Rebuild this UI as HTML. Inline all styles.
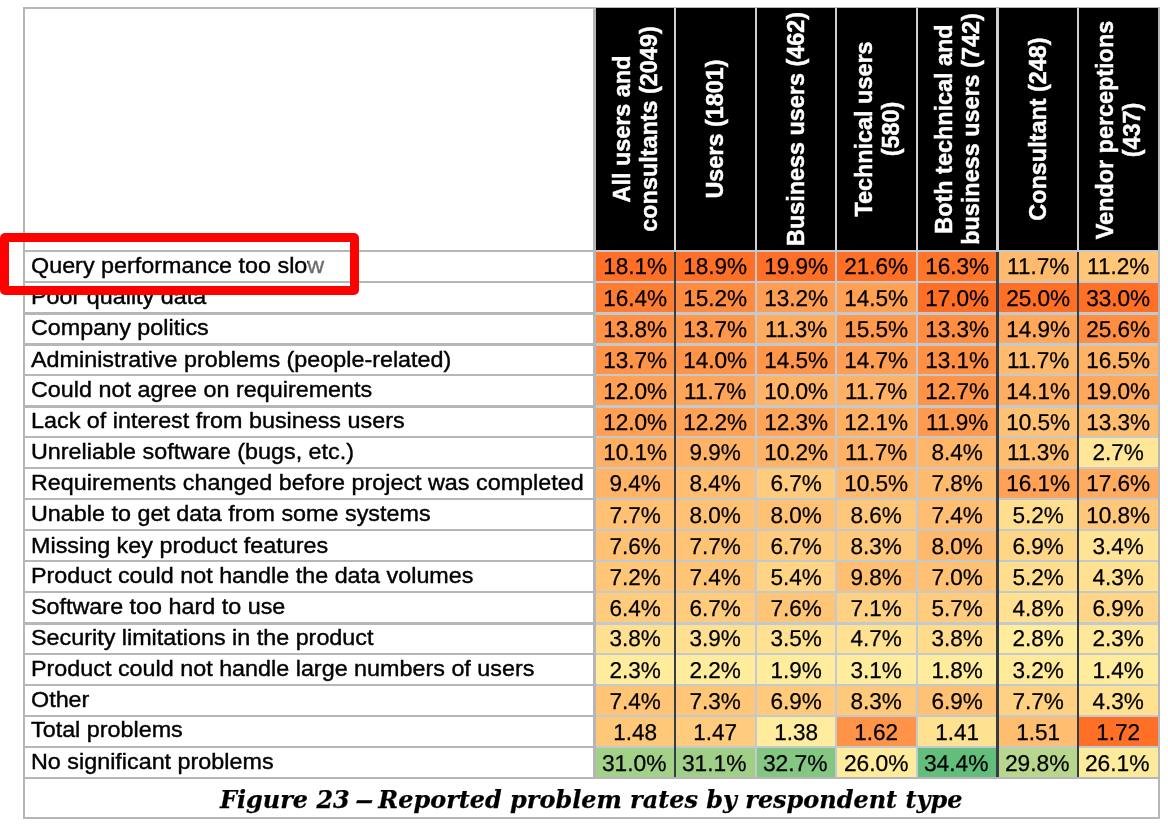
<!DOCTYPE html>
<html lang="en"><head><meta charset="utf-8"><title>Figure 23 – Reported problem rates by respondent type</title>
<style>
html,body{margin:0;padding:0;background:#fff;}
body{width:1168px;height:825px;position:relative;overflow:hidden;font-family:"Liberation Sans",Arial,sans-serif;color:#000;}
.a{position:absolute;}
.c{position:absolute;text-align:center;font-size:22.9px;line-height:28px;height:28px;white-space:nowrap;-webkit-text-stroke:0.25px #000;transform:scaleX(0.985) rotate(0.1deg);}
.l{position:absolute;left:30.6px;font-size:22.4px;line-height:28px;height:28px;white-space:nowrap;-webkit-text-stroke:0.4px #000;transform-origin:0 50%;transform:scaleX(1.0424);}
.h{position:absolute;background:#000;}
.ht{position:absolute;left:50%;top:50%;transform:translate(-50%,-50%) scaleX(1.04) rotate(-90deg);color:#fff;font-weight:bold;font-size:23.4px;line-height:26.0px;text-align:center;white-space:nowrap;-webkit-text-stroke:0.45px #fff;}
.cap{position:absolute;left:219.5px;top:780.5px;height:37px;line-height:37px;transform-origin:0 50%;transform:scaleX(0.9615);font-family:"DejaVu Serif","Liberation Serif",serif;font-weight:bold;font-style:italic;font-size:24.9px;white-space:nowrap;-webkit-text-stroke:0.25px #000;}
.cap b{display:inline-block;transform:scaleX(1.6);font-weight:bold;}
.red{position:absolute;left:0;top:233px;width:341px;height:44px;border:9px solid #ff0000;border-radius:5px;}
</style></head><body>

<div class="a" style="left:22.6px;top:6.7px;width:1137.40px;height:812.30px;border:2.4px solid #b6b6b6;box-sizing:border-box;"></div>
<div class="h" style="left:595.60px;top:7.6px;width:78.39px;height:242.53px;"><div class="ht">All users and<br>consultants (2049)</div></div>
<div class="h" style="left:676.19px;top:7.6px;width:78.39px;height:242.53px;"><div class="ht">Users (1801)</div></div>
<div class="h" style="left:756.78px;top:7.6px;width:78.39px;height:242.53px;"><div class="ht">Business users (462)</div></div>
<div class="h" style="left:837.37px;top:7.6px;width:78.39px;height:242.53px;"><div class="ht">Technical users<br>(580)</div></div>
<div class="h" style="left:917.96px;top:7.6px;width:78.39px;height:242.53px;"><div class="ht">Both technical and<br>business users (742)</div></div>
<div class="h" style="left:998.55px;top:7.6px;width:78.39px;height:242.53px;"><div class="ht">Consultant (248)</div></div>
<div class="h" style="left:1079.14px;top:7.6px;width:78.39px;height:242.53px;"><div class="ht" style="margin-top:1.5px">Vendor perceptions<br>(437)</div></div>
<div class="l" style="top:251.54px;">Query performance too slow</div>
<div class="a" style="left:595.60px;top:252.32px;width:78.39px;height:28.65px;background:#ff7026;"></div>
<div class="a" style="left:676.19px;top:252.32px;width:78.39px;height:28.65px;background:#ff7026;"></div>
<div class="a" style="left:756.78px;top:252.32px;width:78.39px;height:28.65px;background:#ff7026;"></div>
<div class="a" style="left:837.37px;top:252.32px;width:78.39px;height:28.65px;background:#ff7026;"></div>
<div class="a" style="left:917.96px;top:252.32px;width:78.39px;height:28.65px;background:#ff762b;"></div>
<div class="a" style="left:998.55px;top:252.32px;width:78.39px;height:28.65px;background:#ffba6d;"></div>
<div class="a" style="left:1079.14px;top:252.32px;width:78.39px;height:28.65px;background:#ffc677;"></div>
<div class="l" style="top:282.54px;">Poor quality data</div>
<div class="a" style="left:595.60px;top:283.17px;width:78.39px;height:29.28px;background:#ff7d33;"></div>
<div class="a" style="left:676.19px;top:283.17px;width:78.39px;height:29.28px;background:#ff8b40;"></div>
<div class="a" style="left:756.78px;top:283.17px;width:78.39px;height:29.28px;background:#ff9e52;"></div>
<div class="a" style="left:837.37px;top:283.17px;width:78.39px;height:29.28px;background:#ffa053;"></div>
<div class="a" style="left:917.96px;top:283.17px;width:78.39px;height:29.28px;background:#ff7026;"></div>
<div class="a" style="left:998.55px;top:283.17px;width:78.39px;height:29.28px;background:#ff7026;"></div>
<div class="a" style="left:1079.14px;top:283.17px;width:78.39px;height:29.28px;background:#ff7026;"></div>
<div class="l" style="top:314.44px;">Company politics</div>
<div class="a" style="left:595.60px;top:314.65px;width:78.39px;height:28.68px;background:#ff9246;"></div>
<div class="a" style="left:676.19px;top:314.65px;width:78.39px;height:28.68px;background:#ff974b;"></div>
<div class="a" style="left:756.78px;top:314.65px;width:78.39px;height:28.68px;background:#ffab5e;"></div>
<div class="a" style="left:837.37px;top:314.65px;width:78.39px;height:28.68px;background:#ff994d;"></div>
<div class="a" style="left:917.96px;top:314.65px;width:78.39px;height:28.68px;background:#ff8e43;"></div>
<div class="a" style="left:998.55px;top:314.65px;width:78.39px;height:28.68px;background:#ffa85c;"></div>
<div class="a" style="left:1079.14px;top:314.65px;width:78.39px;height:28.68px;background:#ff8d42;"></div>
<div class="l" style="top:345.64px;">Administrative problems (people-related)</div>
<div class="a" style="left:595.60px;top:345.54px;width:78.39px;height:28.64px;background:#ff9347;"></div>
<div class="a" style="left:676.19px;top:345.54px;width:78.39px;height:28.64px;background:#ff9449;"></div>
<div class="a" style="left:756.78px;top:345.54px;width:78.39px;height:28.64px;background:#ff9549;"></div>
<div class="a" style="left:837.37px;top:345.54px;width:78.39px;height:28.64px;background:#ff9e52;"></div>
<div class="a" style="left:917.96px;top:345.54px;width:78.39px;height:28.64px;background:#ff9044;"></div>
<div class="a" style="left:998.55px;top:345.54px;width:78.39px;height:28.64px;background:#ffba6d;"></div>
<div class="a" style="left:1079.14px;top:345.54px;width:78.39px;height:28.64px;background:#ffb164;"></div>
<div class="l" style="top:376.14px;">Could not agree on requirements</div>
<div class="a" style="left:595.60px;top:376.38px;width:78.39px;height:28.94px;background:#ffa054;"></div>
<div class="a" style="left:676.19px;top:376.38px;width:78.39px;height:28.94px;background:#ffa559;"></div>
<div class="a" style="left:756.78px;top:376.38px;width:78.39px;height:28.94px;background:#ffb467;"></div>
<div class="a" style="left:837.37px;top:376.38px;width:78.39px;height:28.94px;background:#ffb265;"></div>
<div class="a" style="left:917.96px;top:376.38px;width:78.39px;height:28.94px;background:#ff9347;"></div>
<div class="a" style="left:998.55px;top:376.38px;width:78.39px;height:28.94px;background:#ffad60;"></div>
<div class="a" style="left:1079.14px;top:376.38px;width:78.39px;height:28.94px;background:#ffa75a;"></div>
<div class="l" style="top:407.44px;">Lack of interest from business users</div>
<div class="a" style="left:595.60px;top:407.52px;width:78.39px;height:28.68px;background:#ffa054;"></div>
<div class="a" style="left:676.19px;top:407.52px;width:78.39px;height:28.68px;background:#ffa255;"></div>
<div class="a" style="left:756.78px;top:407.52px;width:78.39px;height:28.68px;background:#ffa458;"></div>
<div class="a" style="left:837.37px;top:407.52px;width:78.39px;height:28.68px;background:#ffb063;"></div>
<div class="a" style="left:917.96px;top:407.52px;width:78.39px;height:28.68px;background:#ff9a4e;"></div>
<div class="a" style="left:998.55px;top:407.52px;width:78.39px;height:28.68px;background:#ffc173;"></div>
<div class="a" style="left:1079.14px;top:407.52px;width:78.39px;height:28.68px;background:#ffbd70;"></div>
<div class="l" style="top:437.94px;">Unreliable software (bugs, etc.)</div>
<div class="a" style="left:595.60px;top:438.41px;width:78.39px;height:28.42px;background:#ffaf62;"></div>
<div class="a" style="left:676.19px;top:438.41px;width:78.39px;height:28.42px;background:#ffb366;"></div>
<div class="a" style="left:756.78px;top:438.41px;width:78.39px;height:28.42px;background:#ffb366;"></div>
<div class="a" style="left:837.37px;top:438.41px;width:78.39px;height:28.42px;background:#ffb265;"></div>
<div class="a" style="left:917.96px;top:438.41px;width:78.39px;height:28.42px;background:#ffb669;"></div>
<div class="a" style="left:998.55px;top:438.41px;width:78.39px;height:28.42px;background:#ffbd6f;"></div>
<div class="a" style="left:1079.14px;top:438.41px;width:78.39px;height:28.42px;background:#ffe797;"></div>
<div class="l" style="top:468.94px;">Requirements changed before project was completed</div>
<div class="a" style="left:595.60px;top:469.03px;width:78.39px;height:28.87px;background:#ffb467;"></div>
<div class="a" style="left:676.19px;top:469.03px;width:78.39px;height:28.87px;background:#ffbe70;"></div>
<div class="a" style="left:756.78px;top:469.03px;width:78.39px;height:28.87px;background:#ffcb7d;"></div>
<div class="a" style="left:837.37px;top:469.03px;width:78.39px;height:28.87px;background:#ffba6d;"></div>
<div class="a" style="left:917.96px;top:469.03px;width:78.39px;height:28.87px;background:#ffbb6d;"></div>
<div class="a" style="left:998.55px;top:469.03px;width:78.39px;height:28.87px;background:#ffa255;"></div>
<div class="a" style="left:1079.14px;top:469.03px;width:78.39px;height:28.87px;background:#ffac60;"></div>
<div class="l" style="top:499.64px;">Unable to get data from some systems</div>
<div class="a" style="left:595.60px;top:500.10px;width:78.39px;height:28.42px;background:#ffc274;"></div>
<div class="a" style="left:676.19px;top:500.10px;width:78.39px;height:28.42px;background:#ffc173;"></div>
<div class="a" style="left:756.78px;top:500.10px;width:78.39px;height:28.42px;background:#ffc274;"></div>
<div class="a" style="left:837.37px;top:500.10px;width:78.39px;height:28.42px;background:#ffc779;"></div>
<div class="a" style="left:917.96px;top:500.10px;width:78.39px;height:28.42px;background:#ffbe71;"></div>
<div class="a" style="left:998.55px;top:500.10px;width:78.39px;height:28.42px;background:#ffdf8f;"></div>
<div class="a" style="left:1079.14px;top:500.10px;width:78.39px;height:28.42px;background:#ffc779;"></div>
<div class="l" style="top:531.64px;">Missing key product features</div>
<div class="a" style="left:595.60px;top:530.72px;width:78.39px;height:29.24px;background:#ffc274;"></div>
<div class="a" style="left:676.19px;top:530.72px;width:78.39px;height:29.24px;background:#ffc375;"></div>
<div class="a" style="left:756.78px;top:530.72px;width:78.39px;height:29.24px;background:#ffcb7d;"></div>
<div class="a" style="left:837.37px;top:530.72px;width:78.39px;height:29.24px;background:#ffc97b;"></div>
<div class="a" style="left:917.96px;top:530.72px;width:78.39px;height:29.24px;background:#ffb96c;"></div>
<div class="a" style="left:998.55px;top:530.72px;width:78.39px;height:29.24px;background:#ffd586;"></div>
<div class="a" style="left:1079.14px;top:530.72px;width:78.39px;height:29.24px;background:#ffe495;"></div>
<div class="l" style="top:562.14px;">Product could not handle the data volumes</div>
<div class="a" style="left:595.60px;top:562.16px;width:78.39px;height:28.76px;background:#ffc677;"></div>
<div class="a" style="left:676.19px;top:562.16px;width:78.39px;height:28.76px;background:#ffc577;"></div>
<div class="a" style="left:756.78px;top:562.16px;width:78.39px;height:28.76px;background:#ffd485;"></div>
<div class="a" style="left:837.37px;top:562.16px;width:78.39px;height:28.76px;background:#ffbf71;"></div>
<div class="a" style="left:917.96px;top:562.16px;width:78.39px;height:28.76px;background:#ffc274;"></div>
<div class="a" style="left:998.55px;top:562.16px;width:78.39px;height:28.76px;background:#ffdf8f;"></div>
<div class="a" style="left:1079.14px;top:562.16px;width:78.39px;height:28.76px;background:#ffe191;"></div>
<div class="l" style="top:592.84px;">Software too hard to use</div>
<div class="a" style="left:595.60px;top:593.12px;width:78.39px;height:29.28px;background:#ffcc7d;"></div>
<div class="a" style="left:676.19px;top:593.12px;width:78.39px;height:29.28px;background:#ffcb7c;"></div>
<div class="a" style="left:756.78px;top:593.12px;width:78.39px;height:29.28px;background:#ffc577;"></div>
<div class="a" style="left:837.37px;top:593.12px;width:78.39px;height:29.28px;background:#ffd182;"></div>
<div class="a" style="left:917.96px;top:593.12px;width:78.39px;height:29.28px;background:#ffcc7e;"></div>
<div class="a" style="left:998.55px;top:593.12px;width:78.39px;height:29.28px;background:#ffe191;"></div>
<div class="a" style="left:1079.14px;top:593.12px;width:78.39px;height:29.28px;background:#ffd687;"></div>
<div class="l" style="top:623.94px;">Security limitations in the product</div>
<div class="a" style="left:595.60px;top:624.60px;width:78.39px;height:28.38px;background:#ffe091;"></div>
<div class="a" style="left:676.19px;top:624.60px;width:78.39px;height:28.38px;background:#ffdf90;"></div>
<div class="a" style="left:756.78px;top:624.60px;width:78.39px;height:28.38px;background:#ffe192;"></div>
<div class="a" style="left:837.37px;top:624.60px;width:78.39px;height:28.38px;background:#ffe192;"></div>
<div class="a" style="left:917.96px;top:624.60px;width:78.39px;height:28.38px;background:#ffdc8c;"></div>
<div class="a" style="left:998.55px;top:624.60px;width:78.39px;height:28.38px;background:#ffec9c;"></div>
<div class="a" style="left:1079.14px;top:624.60px;width:78.39px;height:28.38px;background:#ffe899;"></div>
<div class="l" style="top:655.14px;">Product could not handle large numbers of users</div>
<div class="a" style="left:595.60px;top:655.18px;width:78.39px;height:28.79px;background:#ffec9c;"></div>
<div class="a" style="left:676.19px;top:655.18px;width:78.39px;height:28.79px;background:#ffec9c;"></div>
<div class="a" style="left:756.78px;top:655.18px;width:78.39px;height:28.79px;background:#ffec9c;"></div>
<div class="a" style="left:837.37px;top:655.18px;width:78.39px;height:28.79px;background:#ffec9c;"></div>
<div class="a" style="left:917.96px;top:655.18px;width:78.39px;height:28.79px;background:#ffec9c;"></div>
<div class="a" style="left:998.55px;top:655.18px;width:78.39px;height:28.79px;background:#ffea9a;"></div>
<div class="a" style="left:1079.14px;top:655.18px;width:78.39px;height:28.79px;background:#ffec9c;"></div>
<div class="l" style="top:685.64px;">Other</div>
<div class="a" style="left:595.60px;top:686.18px;width:78.39px;height:28.65px;background:#ffc476;"></div>
<div class="a" style="left:676.19px;top:686.18px;width:78.39px;height:28.65px;background:#ffc678;"></div>
<div class="a" style="left:756.78px;top:686.18px;width:78.39px;height:28.65px;background:#ffca7b;"></div>
<div class="a" style="left:837.37px;top:686.18px;width:78.39px;height:28.65px;background:#ffc97b;"></div>
<div class="a" style="left:917.96px;top:686.18px;width:78.39px;height:28.65px;background:#ffc274;"></div>
<div class="a" style="left:998.55px;top:686.18px;width:78.39px;height:28.65px;background:#ffd182;"></div>
<div class="a" style="left:1079.14px;top:686.18px;width:78.39px;height:28.65px;background:#ffe191;"></div>
<div class="l" style="top:716.14px;">Total problems</div>
<div class="a" style="left:595.60px;top:717.03px;width:78.39px;height:28.57px;background:#ffc879;"></div>
<div class="a" style="left:676.19px;top:717.03px;width:78.39px;height:28.57px;background:#ffcb7d;"></div>
<div class="a" style="left:756.78px;top:717.03px;width:78.39px;height:28.57px;background:#ffec9c;"></div>
<div class="a" style="left:837.37px;top:717.03px;width:78.39px;height:28.57px;background:#ff9449;"></div>
<div class="a" style="left:917.96px;top:717.03px;width:78.39px;height:28.57px;background:#ffe192;"></div>
<div class="a" style="left:998.55px;top:717.03px;width:78.39px;height:28.57px;background:#ffbd6f;"></div>
<div class="a" style="left:1079.14px;top:717.03px;width:78.39px;height:28.57px;background:#ff7026;"></div>
<div class="l" style="top:748.14px;">No significant problems</div>
<div class="a" style="left:595.60px;top:747.79px;width:78.39px;height:29.17px;background:#a2d188;"></div>
<div class="a" style="left:676.19px;top:747.79px;width:78.39px;height:29.17px;background:#a0d088;"></div>
<div class="a" style="left:756.78px;top:747.79px;width:78.39px;height:29.17px;background:#83c782;"></div>
<div class="a" style="left:837.37px;top:747.79px;width:78.39px;height:29.17px;background:#ffec9c;"></div>
<div class="a" style="left:917.96px;top:747.79px;width:78.39px;height:29.17px;background:#63be7b;"></div>
<div class="a" style="left:998.55px;top:747.79px;width:78.39px;height:29.17px;background:#b8d78d;"></div>
<div class="a" style="left:1079.14px;top:747.79px;width:78.39px;height:29.17px;background:#fdeb9c;"></div>
<div class="c" style="left:595.60px;top:251.67px;width:78.39px;">18.1%</div>
<div class="c" style="left:676.19px;top:251.67px;width:78.39px;">18.9%</div>
<div class="c" style="left:756.78px;top:251.67px;width:78.39px;">19.9%</div>
<div class="c" style="left:837.37px;top:251.67px;width:78.39px;">21.6%</div>
<div class="c" style="left:917.96px;top:251.67px;width:78.39px;">16.3%</div>
<div class="c" style="left:998.55px;top:251.67px;width:78.39px;">11.7%</div>
<div class="c" style="left:1079.14px;top:251.67px;width:78.39px;">11.2%</div>
<div class="c" style="left:595.60px;top:284.17px;width:78.39px;">16.4%</div>
<div class="c" style="left:676.19px;top:284.17px;width:78.39px;">15.2%</div>
<div class="c" style="left:756.78px;top:284.17px;width:78.39px;">13.2%</div>
<div class="c" style="left:837.37px;top:284.17px;width:78.39px;">14.5%</div>
<div class="c" style="left:917.96px;top:284.17px;width:78.39px;">17.0%</div>
<div class="c" style="left:998.55px;top:284.17px;width:78.39px;">25.0%</div>
<div class="c" style="left:1079.14px;top:284.17px;width:78.39px;">33.0%</div>
<div class="c" style="left:595.60px;top:315.32px;width:78.39px;">13.8%</div>
<div class="c" style="left:676.19px;top:315.32px;width:78.39px;">13.7%</div>
<div class="c" style="left:756.78px;top:315.32px;width:78.39px;">11.3%</div>
<div class="c" style="left:837.37px;top:315.32px;width:78.39px;">15.5%</div>
<div class="c" style="left:917.96px;top:315.32px;width:78.39px;">13.3%</div>
<div class="c" style="left:998.55px;top:315.32px;width:78.39px;">14.9%</div>
<div class="c" style="left:1079.14px;top:315.32px;width:78.39px;">25.6%</div>
<div class="c" style="left:595.60px;top:346.07px;width:78.39px;">13.7%</div>
<div class="c" style="left:676.19px;top:346.07px;width:78.39px;">14.0%</div>
<div class="c" style="left:756.78px;top:346.07px;width:78.39px;">14.5%</div>
<div class="c" style="left:837.37px;top:346.07px;width:78.39px;">14.7%</div>
<div class="c" style="left:917.96px;top:346.07px;width:78.39px;">13.1%</div>
<div class="c" style="left:998.55px;top:346.07px;width:78.39px;">11.7%</div>
<div class="c" style="left:1079.14px;top:346.07px;width:78.39px;">16.5%</div>
<div class="c" style="left:595.60px;top:376.97px;width:78.39px;">12.0%</div>
<div class="c" style="left:676.19px;top:376.97px;width:78.39px;">11.7%</div>
<div class="c" style="left:756.78px;top:376.97px;width:78.39px;">10.0%</div>
<div class="c" style="left:837.37px;top:376.97px;width:78.39px;">11.7%</div>
<div class="c" style="left:917.96px;top:376.97px;width:78.39px;">12.7%</div>
<div class="c" style="left:998.55px;top:376.97px;width:78.39px;">14.1%</div>
<div class="c" style="left:1079.14px;top:376.97px;width:78.39px;">19.0%</div>
<div class="c" style="left:595.60px;top:408.02px;width:78.39px;">12.0%</div>
<div class="c" style="left:676.19px;top:408.02px;width:78.39px;">12.2%</div>
<div class="c" style="left:756.78px;top:408.02px;width:78.39px;">12.3%</div>
<div class="c" style="left:837.37px;top:408.02px;width:78.39px;">12.1%</div>
<div class="c" style="left:917.96px;top:408.02px;width:78.39px;">11.9%</div>
<div class="c" style="left:998.55px;top:408.02px;width:78.39px;">10.5%</div>
<div class="c" style="left:1079.14px;top:408.02px;width:78.39px;">13.3%</div>
<div class="c" style="left:595.60px;top:437.67px;width:78.39px;">10.1%</div>
<div class="c" style="left:676.19px;top:437.67px;width:78.39px;">9.9%</div>
<div class="c" style="left:756.78px;top:437.67px;width:78.39px;">10.2%</div>
<div class="c" style="left:837.37px;top:437.67px;width:78.39px;">11.7%</div>
<div class="c" style="left:917.96px;top:437.67px;width:78.39px;">8.4%</div>
<div class="c" style="left:998.55px;top:437.67px;width:78.39px;">11.3%</div>
<div class="c" style="left:1079.14px;top:437.67px;width:78.39px;">2.7%</div>
<div class="c" style="left:595.60px;top:468.72px;width:78.39px;">9.4%</div>
<div class="c" style="left:676.19px;top:468.72px;width:78.39px;">8.4%</div>
<div class="c" style="left:756.78px;top:468.72px;width:78.39px;">6.7%</div>
<div class="c" style="left:837.37px;top:468.72px;width:78.39px;">10.5%</div>
<div class="c" style="left:917.96px;top:468.72px;width:78.39px;">7.8%</div>
<div class="c" style="left:998.55px;top:468.72px;width:78.39px;">16.1%</div>
<div class="c" style="left:1079.14px;top:468.72px;width:78.39px;">17.6%</div>
<div class="c" style="left:595.60px;top:501.32px;width:78.39px;">7.7%</div>
<div class="c" style="left:676.19px;top:501.32px;width:78.39px;">8.0%</div>
<div class="c" style="left:756.78px;top:501.32px;width:78.39px;">8.0%</div>
<div class="c" style="left:837.37px;top:501.32px;width:78.39px;">8.6%</div>
<div class="c" style="left:917.96px;top:501.32px;width:78.39px;">7.4%</div>
<div class="c" style="left:998.55px;top:501.32px;width:78.39px;">5.2%</div>
<div class="c" style="left:1079.14px;top:501.32px;width:78.39px;">10.8%</div>
<div class="c" style="left:595.60px;top:532.22px;width:78.39px;">7.6%</div>
<div class="c" style="left:676.19px;top:532.22px;width:78.39px;">7.7%</div>
<div class="c" style="left:756.78px;top:532.22px;width:78.39px;">6.7%</div>
<div class="c" style="left:837.37px;top:532.22px;width:78.39px;">8.3%</div>
<div class="c" style="left:917.96px;top:532.22px;width:78.39px;">8.0%</div>
<div class="c" style="left:998.55px;top:532.22px;width:78.39px;">6.9%</div>
<div class="c" style="left:1079.14px;top:532.22px;width:78.39px;">3.4%</div>
<div class="c" style="left:595.60px;top:563.12px;width:78.39px;">7.2%</div>
<div class="c" style="left:676.19px;top:563.12px;width:78.39px;">7.4%</div>
<div class="c" style="left:756.78px;top:563.12px;width:78.39px;">5.4%</div>
<div class="c" style="left:837.37px;top:563.12px;width:78.39px;">9.8%</div>
<div class="c" style="left:917.96px;top:563.12px;width:78.39px;">7.0%</div>
<div class="c" style="left:998.55px;top:563.12px;width:78.39px;">5.2%</div>
<div class="c" style="left:1079.14px;top:563.12px;width:78.39px;">4.3%</div>
<div class="c" style="left:595.60px;top:594.02px;width:78.39px;">6.4%</div>
<div class="c" style="left:676.19px;top:594.02px;width:78.39px;">6.7%</div>
<div class="c" style="left:756.78px;top:594.02px;width:78.39px;">7.6%</div>
<div class="c" style="left:837.37px;top:594.02px;width:78.39px;">7.1%</div>
<div class="c" style="left:917.96px;top:594.02px;width:78.39px;">5.7%</div>
<div class="c" style="left:998.55px;top:594.02px;width:78.39px;">4.8%</div>
<div class="c" style="left:1079.14px;top:594.02px;width:78.39px;">6.9%</div>
<div class="c" style="left:595.60px;top:623.77px;width:78.39px;">3.8%</div>
<div class="c" style="left:676.19px;top:623.77px;width:78.39px;">3.9%</div>
<div class="c" style="left:756.78px;top:623.77px;width:78.39px;">3.5%</div>
<div class="c" style="left:837.37px;top:623.77px;width:78.39px;">4.7%</div>
<div class="c" style="left:917.96px;top:623.77px;width:78.39px;">3.8%</div>
<div class="c" style="left:998.55px;top:623.77px;width:78.39px;">2.8%</div>
<div class="c" style="left:1079.14px;top:623.77px;width:78.39px;">2.3%</div>
<div class="c" style="left:595.60px;top:655.97px;width:78.39px;">2.3%</div>
<div class="c" style="left:676.19px;top:655.97px;width:78.39px;">2.2%</div>
<div class="c" style="left:756.78px;top:655.97px;width:78.39px;">1.9%</div>
<div class="c" style="left:837.37px;top:655.97px;width:78.39px;">3.1%</div>
<div class="c" style="left:917.96px;top:655.97px;width:78.39px;">1.8%</div>
<div class="c" style="left:998.55px;top:655.97px;width:78.39px;">3.2%</div>
<div class="c" style="left:1079.14px;top:655.97px;width:78.39px;">1.4%</div>
<div class="c" style="left:595.60px;top:687.02px;width:78.39px;">7.4%</div>
<div class="c" style="left:676.19px;top:687.02px;width:78.39px;">7.3%</div>
<div class="c" style="left:756.78px;top:687.02px;width:78.39px;">6.9%</div>
<div class="c" style="left:837.37px;top:687.02px;width:78.39px;">8.3%</div>
<div class="c" style="left:917.96px;top:687.02px;width:78.39px;">6.9%</div>
<div class="c" style="left:998.55px;top:687.02px;width:78.39px;">7.7%</div>
<div class="c" style="left:1079.14px;top:687.02px;width:78.39px;">4.3%</div>
<div class="c" style="left:595.60px;top:718.07px;width:78.39px;">1.48</div>
<div class="c" style="left:676.19px;top:718.07px;width:78.39px;">1.47</div>
<div class="c" style="left:756.78px;top:718.07px;width:78.39px;">1.38</div>
<div class="c" style="left:837.37px;top:718.07px;width:78.39px;">1.62</div>
<div class="c" style="left:917.96px;top:718.07px;width:78.39px;">1.41</div>
<div class="c" style="left:998.55px;top:718.07px;width:78.39px;">1.51</div>
<div class="c" style="left:1079.14px;top:718.07px;width:78.39px;">1.72</div>
<div class="c" style="left:594.80px;top:748.97px;width:78.39px;transform:scaleX(0.995) rotate(0.1deg);">31.0%</div>
<div class="c" style="left:675.39px;top:748.97px;width:78.39px;transform:scaleX(0.995) rotate(0.1deg);">31.1%</div>
<div class="c" style="left:755.98px;top:748.97px;width:78.39px;transform:scaleX(0.995) rotate(0.1deg);">32.7%</div>
<div class="c" style="left:836.57px;top:748.97px;width:78.39px;transform:scaleX(0.995) rotate(0.1deg);">26.0%</div>
<div class="c" style="left:917.16px;top:748.97px;width:78.39px;transform:scaleX(0.995) rotate(0.1deg);">34.4%</div>
<div class="c" style="left:997.75px;top:748.97px;width:78.39px;transform:scaleX(0.995) rotate(0.1deg);">29.8%</div>
<div class="c" style="left:1078.34px;top:748.97px;width:78.39px;transform:scaleX(0.995) rotate(0.1deg);">26.1%</div>
<div class="a" style="left:24px;top:250.12px;width:571.60px;height:2.2px;background:#b6b6b6;"></div>
<div class="a" style="left:595.60px;top:250.12px;width:561.93px;height:2.2px;background:#c2c9cf;"></div>
<div class="a" style="left:24px;top:280.97px;width:571.60px;height:2.2px;background:#b6b6b6;"></div>
<div class="a" style="left:595.60px;top:280.97px;width:561.93px;height:2.2px;background:#c2c9cf;"></div>
<div class="a" style="left:24px;top:312.45px;width:571.60px;height:2.2px;background:#b6b6b6;"></div>
<div class="a" style="left:595.60px;top:312.45px;width:561.93px;height:2.2px;background:#c2c9cf;"></div>
<div class="a" style="left:24px;top:343.34px;width:571.60px;height:2.2px;background:#b6b6b6;"></div>
<div class="a" style="left:595.60px;top:343.34px;width:561.93px;height:2.2px;background:#c2c9cf;"></div>
<div class="a" style="left:24px;top:374.18px;width:571.60px;height:2.2px;background:#b6b6b6;"></div>
<div class="a" style="left:595.60px;top:374.18px;width:561.93px;height:2.2px;background:#c2c9cf;"></div>
<div class="a" style="left:24px;top:405.32px;width:571.60px;height:2.2px;background:#b6b6b6;"></div>
<div class="a" style="left:595.60px;top:405.32px;width:561.93px;height:2.2px;background:#c2c9cf;"></div>
<div class="a" style="left:24px;top:436.21px;width:571.60px;height:2.2px;background:#b6b6b6;"></div>
<div class="a" style="left:595.60px;top:436.21px;width:561.93px;height:2.2px;background:#c2c9cf;"></div>
<div class="a" style="left:24px;top:466.83px;width:571.60px;height:2.2px;background:#b6b6b6;"></div>
<div class="a" style="left:595.60px;top:466.83px;width:561.93px;height:2.2px;background:#c2c9cf;"></div>
<div class="a" style="left:24px;top:497.90px;width:571.60px;height:2.2px;background:#b6b6b6;"></div>
<div class="a" style="left:595.60px;top:497.90px;width:561.93px;height:2.2px;background:#c2c9cf;"></div>
<div class="a" style="left:24px;top:528.52px;width:571.60px;height:2.2px;background:#b6b6b6;"></div>
<div class="a" style="left:595.60px;top:528.52px;width:561.93px;height:2.2px;background:#c2c9cf;"></div>
<div class="a" style="left:24px;top:559.96px;width:571.60px;height:2.2px;background:#b6b6b6;"></div>
<div class="a" style="left:595.60px;top:559.96px;width:561.93px;height:2.2px;background:#c2c9cf;"></div>
<div class="a" style="left:24px;top:590.92px;width:571.60px;height:2.2px;background:#b6b6b6;"></div>
<div class="a" style="left:595.60px;top:590.92px;width:561.93px;height:2.2px;background:#c2c9cf;"></div>
<div class="a" style="left:24px;top:622.40px;width:571.60px;height:2.2px;background:#b6b6b6;"></div>
<div class="a" style="left:595.60px;top:622.40px;width:561.93px;height:2.2px;background:#c2c9cf;"></div>
<div class="a" style="left:24px;top:652.98px;width:571.60px;height:2.2px;background:#b6b6b6;"></div>
<div class="a" style="left:595.60px;top:652.98px;width:561.93px;height:2.2px;background:#c2c9cf;"></div>
<div class="a" style="left:24px;top:683.98px;width:571.60px;height:2.2px;background:#b6b6b6;"></div>
<div class="a" style="left:595.60px;top:683.98px;width:561.93px;height:2.2px;background:#c2c9cf;"></div>
<div class="a" style="left:24px;top:714.83px;width:571.60px;height:2.2px;background:#b6b6b6;"></div>
<div class="a" style="left:595.60px;top:714.83px;width:561.93px;height:2.2px;background:#c2c9cf;"></div>
<div class="a" style="left:24px;top:745.59px;width:571.60px;height:2.2px;background:#b6b6b6;"></div>
<div class="a" style="left:595.60px;top:745.59px;width:561.93px;height:2.2px;background:#c2c9cf;"></div>
<div class="a" style="left:24px;top:776.96px;width:1135px;height:2.2px;background:#b6b6b6;"></div>
<div class="a" style="left:593.40px;top:7.60px;width:2.2px;height:242.53px;background:#b6b6b6;"></div>
<div class="a" style="left:593.40px;top:250.12px;width:2.2px;height:526.84px;background:#b6b6b6;"></div>
<div class="a" style="left:673.99px;top:7.60px;width:2.2px;height:242.53px;background:#d0d0d0;"></div>
<div class="a" style="left:673.99px;top:252.32px;width:2.2px;height:524.64px;background:#343c46;"></div>
<div class="a" style="left:754.58px;top:7.60px;width:2.2px;height:242.53px;background:#d0d0d0;"></div>
<div class="a" style="left:754.58px;top:250.12px;width:2.2px;height:526.84px;background:#c2c9cf;"></div>
<div class="a" style="left:835.17px;top:7.60px;width:2.2px;height:242.53px;background:#d0d0d0;"></div>
<div class="a" style="left:835.17px;top:250.12px;width:2.2px;height:526.84px;background:#c2c9cf;"></div>
<div class="a" style="left:915.76px;top:7.60px;width:2.2px;height:242.53px;background:#d0d0d0;"></div>
<div class="a" style="left:915.76px;top:250.12px;width:2.2px;height:526.84px;background:#c2c9cf;"></div>
<div class="a" style="left:996.35px;top:7.60px;width:2.2px;height:242.53px;background:#d0d0d0;"></div>
<div class="a" style="left:996.35px;top:252.32px;width:2.2px;height:524.64px;background:#343c46;"></div>
<div class="a" style="left:1076.94px;top:7.60px;width:2.2px;height:242.53px;background:#d0d0d0;"></div>
<div class="a" style="left:1076.94px;top:252.32px;width:2.2px;height:524.64px;background:#343c46;"></div>
<div class="cap">Figure 23 <b>–</b> Reported problem rates by respondent type</div>
<div class="a" style="left:307.6px;top:256px;width:18px;height:21px;background:rgba(255,255,255,0.42);"></div>
<div class="red"></div>
</body></html>
